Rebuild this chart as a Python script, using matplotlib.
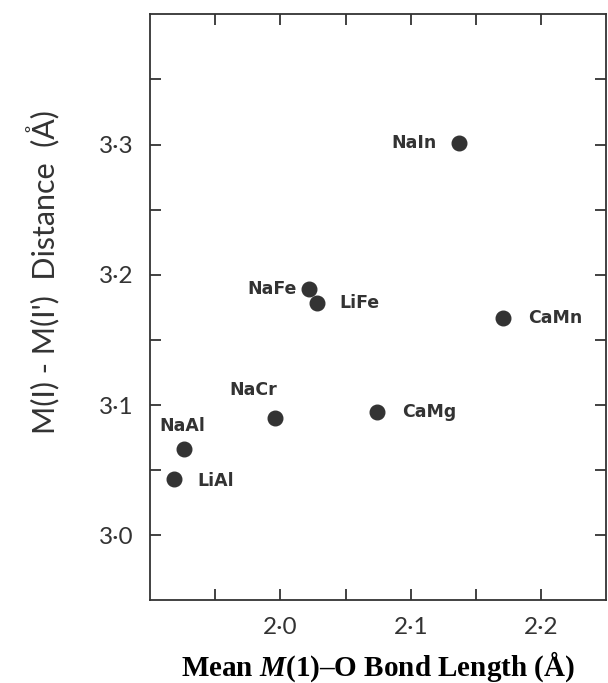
import matplotlib.pyplot as plt
from matplotlib.ticker import FixedLocator

plt.rcParams['mathtext.fontset'] = 'custom'
plt.rcParams['mathtext.it'] = 'Liberation Serif:italic:bold'
plt.rcParams['mathtext.rm'] = 'Liberation Serif:bold'

# mean M(1)-O bond length vs M(1)-M(1') distance
names = ['NaIn', 'NaFe', 'LiFe', 'CaMn', 'CaMg', 'NaCr', 'NaAl', 'LiAl']
bond = [2.137, 2.022, 2.028, 2.171, 2.074, 1.996, 1.926, 1.918]
dist = [3.301, 3.189, 3.178, 3.167, 3.095, 3.090, 3.066, 3.043]

xticks = [1.95, 2.0, 2.05, 2.1, 2.15, 2.2]
xticklabels = ['', '2·0', '', '2·1', '', '2·2']
yticks = [3.0, 3.05, 3.1, 3.15, 3.2, 3.25, 3.3, 3.35]
yticklabels = ['3·0', '', '3·1', '', '3·2', '', '3·3', '']

# label offsets in points and alignment
offs = {'NaIn': (-16, 0, 'right', 'center'), 'NaFe': (-9, 0, 'right', 'center'),
        'LiFe': (16, 0, 'left', 'center'), 'CaMn': (18, 0, 'left', 'center'),
        'CaMg': (18, 0, 'left', 'center'), 'NaCr': (-16, 14, 'center', 'bottom'),
        'NaAl': (-1, 10, 'center', 'bottom'), 'LiAl': (17, -1, 'left', 'center')}

fig = plt.figure(figsize=(6.08, 6.83), dpi=100)
ax = fig.add_axes([0.247, 0.121, 0.75, 0.858])

ax.plot(bond, dist, 'o', color='#333333', markersize=10.5, linestyle='none')
for n, x, y in zip(names, bond, dist):
    dx, dy, ha, va = offs[n]
    ax.annotate(n, (x, y), xytext=(dx, dy), textcoords='offset points',
                ha=ha, va=va, fontsize=12.5, fontweight='bold',
                family='DejaVu Sans', color='#333333')

ax.set_xlim(1.9, 2.25)
ax.set_ylim(2.95, 3.4)
ax.xaxis.set_major_locator(FixedLocator(xticks))
ax.set_xticklabels(xticklabels)
ax.yaxis.set_major_locator(FixedLocator(yticks))
ax.set_yticklabels(yticklabels)
ax.tick_params(direction='in', length=8, width=1.3, top=True, right=True,
               labelsize=17.5, colors='#333333', pad=12)
for lab in ax.get_xticklabels() + ax.get_yticklabels():
    lab.set_family('Lato')
for s in ax.spines.values():
    s.set_linewidth(1.3)
    s.set_color('#333333')

ax.set_ylabel("M(I) - M(I')  Distance  (Å)", fontsize=22, family='Lato',
              color='#333333')
ax.yaxis.set_label_coords(-0.2, 0.56)
ax.set_xlabel(r'Mean $M$(1)–O Bond Length (Å)', fontsize=21,
              family='Liberation Serif', fontweight='bold', labelpad=8)

fig.savefig('out.png', dpi=100)
